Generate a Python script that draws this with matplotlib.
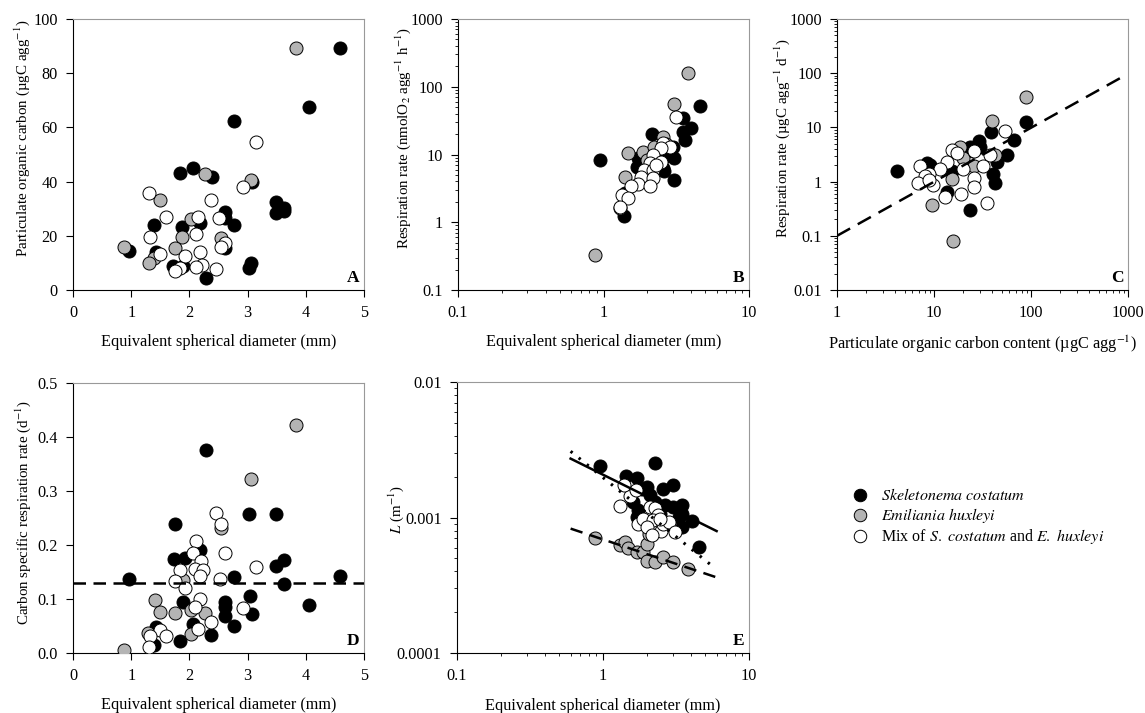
import matplotlib
matplotlib.use('Agg')
import matplotlib.pyplot as plt
from matplotlib.ticker import FuncFormatter
from matplotlib.lines import Line2D

plt.rcParams['font.family'] = ['Liberation Serif', 'DejaVu Serif']
plt.rcParams['mathtext.fontset'] = 'stix'
plt.rcParams['font.size'] = 11.7

# ---- panel A: ESD (mm) vs POC (ugC agg-1)
a_sc_x = [4.58, 4.06, 2.76, 2.06, 1.83, 2.38, 3.08, 3.49, 3.62, 3.49, 3.62, 2.61, 2.62, 1.39, 2.77,
          1.88, 2.18, 0.96, 1.43, 2.62, 1.72, 1.89, 3.05, 3.02, 2.28]
a_sc_y = [89.4, 67.7, 62.2, 44.9, 43.3, 41.8, 39.9, 32.5, 30.4, 28.3, 29.0, 28.8, 26.4, 23.9, 24.0,
          23.1, 24.6, 14.5, 13.9, 15.4, 9.0, 9.0, 9.8, 8.2, 4.4]
a_eh_x = [3.84, 2.27, 3.05, 1.49, 2.02, 1.88, 2.55, 0.87, 1.75, 1.40, 1.30]
a_eh_y = [89.4, 42.7, 40.6, 33.1, 26.1, 19.6, 19.2, 16.0, 15.6, 11.7, 10.1]
a_mix_x = [3.15, 2.92, 1.30, 2.37, 1.59, 2.14, 2.51, 1.33, 2.11, 2.61, 2.55, 1.49, 2.19, 1.92, 2.22,
           2.11, 1.84, 1.75, 2.45]
a_mix_y = [54.5, 37.9, 35.9, 33.1, 26.9, 26.9, 26.7, 19.6, 20.8, 17.5, 15.7, 13.3, 13.9, 12.5, 9.2,
           8.5, 8.2, 7.1, 7.7]

# ---- panel B: ESD vs respiration (nmolO2 agg-1 h-1)
b_sc_x = [0.95, 4.58, 3.52, 4.02, 3.52, 3.61, 2.17, 3.0, 3.03, 2.59, 1.73, 1.70, 2.56, 2.6, 3.05,
          1.41, 1.38, 2.78, 2.2]
b_sc_y = [8.3, 52.5, 35, 24.9, 21.7, 16.4, 20.1, 13.1, 8.8, 9.3, 8.8, 6.6, 6.25, 5.8, 4.2,
          2.7, 1.24, 11.6, 7.4]
b_eh_x = [0.87, 3.81, 3.05, 2.56, 1.47, 1.87, 1.40, 2.21, 1.98, 2.7, 1.29]
b_eh_y = [0.33, 158, 55, 18.3, 10.4, 10.9, 4.7, 13.1, 8.3, 14.5, 1.6]
b_mix_x = [3.13, 2.56, 2.85, 2.47, 2.2, 2.47, 2.1, 1.89, 2.2, 1.81, 2.2, 1.73, 2.1, 1.55, 1.33,
           1.48, 1.29, 2.3]
b_mix_y = [36, 14.6, 13.1, 12.4, 9.8, 7.8, 7.4, 5.9, 5.9, 4.7, 4.5, 3.7, 3.4, 3.4, 2.5,
           2.25, 1.7, 7.0]

# ---- panel C: POC vs respiration (ugC agg-1 d-1)
c_sc_x = [4.2, 88.5, 67, 57, 39, 29, 23.5, 25, 45, 41, 42.5, 23.5, 13.5, 8.4, 9, 15.2, 30]
c_sc_y = [1.59, 12.8, 5.9, 3.1, 8.3, 5.5, 4.4, 3.6, 2.3, 1.38, 0.93, 0.30, 0.65, 2.17, 2.0, 1.6, 4.4]
c_eh_x = [88, 40, 18.6, 26, 15.2, 9.6, 15.6, 42.5, 20]
c_eh_y = [37, 13.3, 4.4, 1.97, 1.1, 0.37, 0.08, 3.1, 2.7]
c_mix_x = [54, 26, 15.2, 17.2, 38, 32, 13.5, 7.2, 11.5, 8.9, 20, 8, 6.8, 9.8, 25.8, 26, 13, 19.2,
           35, 8.8]
c_mix_y = [8.6, 3.7, 3.8, 3.3, 3.1, 1.9, 2.3, 1.9, 1.7, 1.4, 1.7, 1.25, 0.95, 0.87, 1.15, 0.8,
           0.53, 0.6, 0.41, 1.05]
c_fit_x = [1, 880]
c_fit_y = [0.1, 86]

# ---- panel D: ESD vs carbon specific respiration (d-1)
d_sc_x = [2.29, 1.75, 3.02, 3.49, 2.19, 1.73, 1.92, 3.62, 3.49, 0.96, 2.77, 4.58, 3.62, 3.04, 1.89,
          2.61, 2.61, 4.06, 3.08, 2.61, 1.43, 2.06, 2.76, 2.37, 1.84, 1.40]
d_sc_y = [0.376, 0.238, 0.257, 0.257, 0.190, 0.174, 0.176, 0.172, 0.161, 0.137, 0.140, 0.143,
          0.128, 0.105, 0.094, 0.094, 0.086, 0.088, 0.073, 0.068, 0.049, 0.054, 0.050, 0.033,
          0.023, 0.014]
d_eh_x = [3.84, 3.05, 2.55, 1.89, 1.41, 1.49, 1.75, 2.02, 2.27, 1.29, 2.02, 0.87]
d_eh_y = [0.423, 0.322, 0.232, 0.135, 0.098, 0.076, 0.074, 0.079, 0.074, 0.037, 0.036, 0.005]
d_mix_x = [2.45, 2.55, 2.11, 2.61, 2.06, 2.20, 3.15, 1.83, 2.09, 2.23, 2.18, 2.52, 1.75, 1.92,
           2.19, 2.09, 2.92, 2.37, 2.14, 1.49, 1.59, 1.33, 1.31]
d_mix_y = [0.259, 0.238, 0.208, 0.186, 0.186, 0.170, 0.160, 0.154, 0.155, 0.154, 0.143, 0.137,
           0.134, 0.120, 0.100, 0.086, 0.083, 0.057, 0.044, 0.042, 0.032, 0.031, 0.012]
d_mean = 0.13

# ---- panel E: ESD vs L (m-1)
e_sc_x = [0.95, 2.27, 1.44, 1.71, 1.99, 1.86, 2.59, 3.03, 2.09, 2.27, 2.65, 3.03, 3.46, 1.74, 1.71,
          2.45, 3.46, 4.05, 3.5, 4.56, 3.3, 1.6]
e_sc_y = [0.00239, 0.00252, 0.00201, 0.00196, 0.00168, 0.00163, 0.00163, 0.00173, 0.00146,
          0.0013, 0.00123, 0.0012, 0.00124, 0.00113, 0.00101, 0.00107, 0.00107, 0.00095,
          0.00085, 0.00061, 0.00101, 0.0013]
e_eh_x = [0.88, 1.30, 1.42, 1.49, 1.71, 1.89, 1.99, 1.99, 2.27, 2.58, 3.03, 3.84, 2.06]
e_eh_y = [0.000706, 0.000631, 0.00066, 0.000595, 0.000556, 0.00056, 0.00064, 0.000474, 0.00047,
          0.000513, 0.00047, 0.000414, 0.00076]
e_mix_x = [1.30, 1.53, 1.40, 1.67, 1.74, 1.89, 2.09, 2.27, 2.37, 2.2, 1.99, 2.5, 2.59, 2.85, 3.1,
           2.18, 2.45]
e_mix_y = [0.00121, 0.00143, 0.00173, 0.00159, 0.0009, 0.00098, 0.0012, 0.00117, 0.00104, 0.00096,
           0.00085, 0.0008, 0.0009, 0.00093, 0.00078, 0.00074, 0.00097]
e_fit_sc_x = [0.6, 6.0]
e_fit_sc_y = [0.00272, 0.000794]
e_fit_mix_x = [0.6, 5.7]
e_fit_mix_y = [0.00308, 0.000432]
e_fit_eh_x = [0.6, 6.07]
e_fit_eh_y = [0.000828, 0.00036]

labels = [r'$\mathit{Skeletonema\ costatum}$', r'$\mathit{Emiliania\ huxleyi}$',
          r'Mix of $\mathit{S.}$ $\mathit{costatum}$ and $\mathit{E.}$ $\mathit{huxleyi}$']
colors = ['black', '#b4b4b4', 'white']
ms = 88
esd_label = 'Equivalent spherical diameter (mm)'
ylab_size = 10.8

fig = plt.figure(figsize=(11.45, 7.13), dpi=100)
W, H = 1145, 713


def make_ax(l, t, r, b):
    return fig.add_axes([l / W, 1 - b / H, (r - l) / W, (b - t) / H])


def style(ax, letter, ylab_xy):
    for s in ['top', 'right']:
        ax.spines[s].set_color('#999999')
    ax.tick_params(which='both', direction='out', labelsize=11.7, pad=6)
    ax.tick_params(which='major', length=5)
    ax.tick_params(which='minor', length=2.5)
    ax.tick_params(top=False, right=False, which='both')
    ax.xaxis.labelpad = 9
    ax.yaxis.set_label_coords(*ylab_xy)
    ax.yaxis.label.set_fontsize(ylab_size)
    ax.text(0.985, 0.015, letter, transform=ax.transAxes, ha='right', va='bottom',
            fontweight='bold', fontsize=12.5)


def pts(ax, sets):
    for (x, y), c in zip(sets, colors):
        ax.scatter(x, y, s=ms, c=c, edgecolors='black', linewidths=0.7, zorder=3)


fmt = FuncFormatter(lambda v, p: '%g' % v)

axA = make_ax(73, 19, 364, 290)
pts(axA, [(a_sc_x, a_sc_y), (a_eh_x, a_eh_y), (a_mix_x, a_mix_y)])
axA.set_xlim(0, 5)
axA.set_ylim(0, 100)
axA.set_xticks(range(0, 6))
axA.set_yticks(range(0, 101, 20))
axA.set_xlabel(esd_label)
axA.set_ylabel('Particulate organic carbon (µgC agg$^{-1}$)')
style(axA, 'A', (-0.14, 0.56))

axB = make_ax(458, 19, 749, 290)
pts(axB, [(b_sc_x, b_sc_y), (b_eh_x, b_eh_y), (b_mix_x, b_mix_y)])
axB.set_xscale('log')
axB.set_yscale('log')
axB.set_xlim(0.1, 10)
axB.set_ylim(0.1, 1000)
axB.xaxis.set_major_formatter(fmt)
axB.yaxis.set_major_formatter(fmt)
axB.set_xlabel(esd_label)
axB.set_ylabel('Respiration rate (nmolO$_2$ agg$^{-1}$ h$^{-1}$)')
style(axB, 'B', (-0.155, 0.56))

axC = make_ax(837, 19, 1128, 290)
pts(axC, [(c_sc_x, c_sc_y), (c_eh_x, c_eh_y), (c_mix_x, c_mix_y)])
axC.plot(c_fit_x, c_fit_y, color='black', lw=1.8, ls=(0, (6, 3.5)), zorder=4)
axC.set_xscale('log')
axC.set_yscale('log')
axC.set_xlim(1, 1000)
axC.set_ylim(0.01, 1000)
axC.xaxis.set_major_formatter(fmt)
axC.yaxis.set_major_formatter(fmt)
axC.set_xlabel('Particulate organic carbon content (µgC agg$^{-1}$)')
axC.set_ylabel('Respiration rate (µgC agg$^{-1}$ d$^{-1}$)')
style(axC, 'C', (-0.155, 0.56))

axD = make_ax(73, 383, 364, 653)
pts(axD, [(d_sc_x, d_sc_y), (d_eh_x, d_eh_y), (d_mix_x, d_mix_y)])
axD.axhline(d_mean, color='black', lw=1.8, ls=(0, (5, 3)), zorder=4)
axD.set_xlim(0, 5)
axD.set_ylim(0, 0.5)
axD.set_xticks(range(0, 6))
axD.set_yticks([0, 0.1, 0.2, 0.3, 0.4, 0.5])
axD.yaxis.set_major_formatter(FuncFormatter(lambda v, p: '%.1f' % v))
axD.set_xlabel(esd_label)
axD.set_ylabel('Carbon specific respiration rate (d$^{-1}$)')
style(axD, 'D', (-0.137, 0.52))

axE = make_ax(457, 382, 749, 653)
pts(axE, [(e_sc_x, e_sc_y), (e_eh_x, e_eh_y), (e_mix_x, e_mix_y)])
axE.plot(e_fit_sc_x, e_fit_sc_y, color='black', lw=1.8, zorder=4)
axE.plot(e_fit_mix_x, e_fit_mix_y, color='black', lw=2.2, ls=(0, (0.8, 2.6)), zorder=4)
axE.plot(e_fit_eh_x, e_fit_eh_y, color='black', lw=1.8, ls=(0, (5, 3)), zorder=4)
axE.set_xscale('log')
axE.set_yscale('log')
axE.set_xlim(0.1, 10)
axE.set_ylim(0.0001, 0.01)
axE.xaxis.set_major_formatter(fmt)
axE.yaxis.set_major_formatter(fmt)
axE.set_ylabel(r'$\mathit{L}$ (m$^{-1}$)')
style(axE, 'E', (-0.175, 0.53))
axE.set_xlabel(esd_label, labelpad=10)

handles = [Line2D([], [], marker='o', ls='', markersize=9, markerfacecolor=c,
                  markeredgecolor='black', markeredgewidth=0.7) for c in colors]
fig.legend(handles, labels, loc='upper left', bbox_to_anchor=(838 / W, 1 - 474 / H),
           frameon=False, fontsize=11.5, handletextpad=0.8, labelspacing=0.12,
           handlelength=1.0)

fig.savefig('out.png', dpi=100)
